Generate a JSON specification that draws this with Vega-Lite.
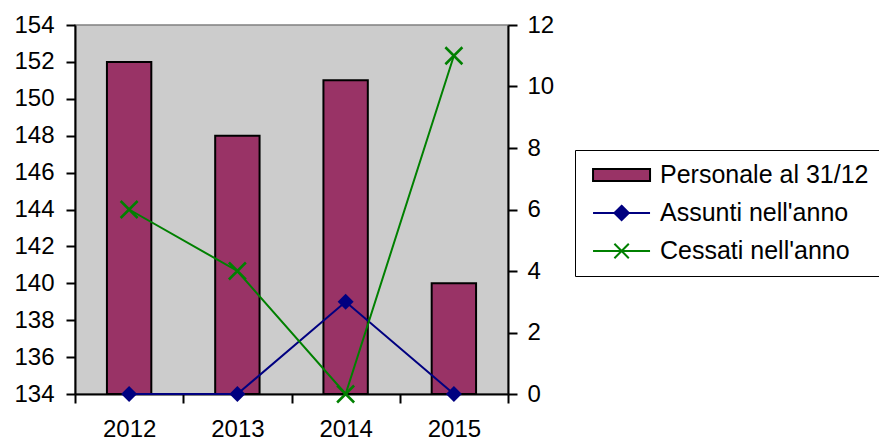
{
  "$schema": "https://vega.github.io/schema/vega-lite/v6.json",
  "width": 433,
  "height": 369,
  "autosize": {"type": "none"},
  "padding": {"left": 75, "top": 25, "right": 371, "bottom": 47},
  "background": "white",
  "config": {
    "font": "Liberation Sans",
    "view": {"fill": "#cccccc", "stroke": "#808080", "strokeWidth": 1.5},
    "axis": {
      "labelFont": "Liberation Sans",
      "labelFontSize": 24,
      "labelColor": "black",
      "domainColor": "black",
      "domainWidth": 2,
      "tickColor": "black",
      "tickWidth": 2,
      "tickSize": 9,
      "grid": false,
      "title": null
    },
    "legend": {
      "title": null,
      "orient": "none",
      "legendX": 500,
      "legendY": 125,
      "padding": 12,
      "strokeColor": "black",
      "fillColor": "white",
      "labelFont": "Liberation Sans",
      "labelFontSize": 25,
      "labelColor": "black",
      "labelOffset": 47,
      "labelLimit": 0,
      "symbolSize": 576,
      "symbolStrokeWidth": 2,
      "symbolOpacity": 1,
      "rowPadding": 12
    }
  },
  "datasets": {
    "personale": [
      {"anno": "2012", "valore": 152, "serie": "Personale al 31/12"},
      {"anno": "2013", "valore": 148, "serie": "Personale al 31/12"},
      {"anno": "2014", "valore": 151, "serie": "Personale al 31/12"},
      {"anno": "2015", "valore": 140, "serie": "Personale al 31/12"}
    ],
    "flussi": [
      {"anno": "2012", "valore": 0, "serie": "Assunti nell'anno"},
      {"anno": "2013", "valore": 0, "serie": "Assunti nell'anno"},
      {"anno": "2014", "valore": 3, "serie": "Assunti nell'anno"},
      {"anno": "2015", "valore": 0, "serie": "Assunti nell'anno"},
      {"anno": "2012", "valore": 6, "serie": "Cessati nell'anno"},
      {"anno": "2013", "valore": 4, "serie": "Cessati nell'anno"},
      {"anno": "2014", "valore": 0, "serie": "Cessati nell'anno"},
      {"anno": "2015", "valore": 11, "serie": "Cessati nell'anno"}
    ]
  },
  "encoding": {
    "x": {
      "field": "anno",
      "type": "nominal",
      "scale": {"paddingInner": 0, "paddingOuter": 0},
      "axis": {"labelAngle": 0, "tickBand": "extent", "labelPadding": 14}
    }
  },
  "layer": [
    {
      "data": {"name": "personale"},
      "mark": {"type": "bar", "width": {"band": 0.41}, "fill": "#993366", "stroke": "black", "strokeWidth": 2},
      "encoding": {
        "y": {
          "field": "valore",
          "type": "quantitative",
          "scale": {"domain": [134, 154], "zero": false, "nice": false},
          "axis": {"orient": "left", "values": [134,136,138,140,142,144,146,148,150,152,154], "labelPadding": 12}
        },
        "y2": {"datum": 134}
      }
    },
    {
      "data": {"name": "flussi"},
      "layer": [
        {
          "mark": {"type": "line", "strokeWidth": 2},
          "encoding": {
            "y": {
              "field": "valore",
              "type": "quantitative",
              "scale": {"domain": [0, 12], "nice": false},
              "axis": {"orient": "right", "values": [0,2,4,6,8,10,12], "labelPadding": 10}
            },
            "color": {
              "field": "serie",
              "type": "nominal",
              "scale": {"domain": ["Assunti nell'anno", "Cessati nell'anno"], "range": ["#000080", "#008000"]},
              "legend": null
            }
          }
        },
        {
          "transform": [{"filter": "indexof(datum.serie,'Assunti')>=0"}],
          "mark": {"type": "point", "shape": "diamond", "filled": true, "size": 256, "opacity": 1},
          "encoding": {
            "y": {"field": "valore", "type": "quantitative"},
            "color": {"field": "serie", "type": "nominal", "legend": null}
          }
        },
        {
          "transform": [{"filter": "indexof(datum.serie,'Cessati')>=0"}],
          "mark": {"type": "point", "shape": "M-1,-1L1,1M-1,1L1,-1", "filled": false, "size": 289, "strokeWidth": 2.5, "opacity": 1},
          "encoding": {
            "y": {"field": "valore", "type": "quantitative"},
            "color": {"field": "serie", "type": "nominal", "legend": null}
          }
        }
      ]
    },
    {
      "data": {"name": "personale"},
      "mark": {"type": "point", "filled": true, "opacity": 0},
      "encoding": {
        "fill": {
          "field": "serie",
          "type": "nominal",
          "scale": {"domain": ["Personale al 31/12", "Assunti nell'anno", "Cessati nell'anno"], "range": ["#993366", "#000080", "transparent"]}
        },
        "stroke": {
          "field": "serie",
          "type": "nominal",
          "scale": {"domain": ["Personale al 31/12", "Assunti nell'anno", "Cessati nell'anno"], "range": ["black", "#000080", "#008000"]}
        },
        "shape": {
          "field": "serie",
          "type": "nominal",
          "scale": {"domain": ["Personale al 31/12", "Assunti nell'anno", "Cessati nell'anno"], "range": ["M-0.58,-0.5H4.17V0.5H-0.58Z", "M-0.58,0H4.17M1.8,-0.6L2.4,0L1.8,0.6L1.2,0Z", "M-0.58,0H4.17M1.2,-0.6L2.4,0.6M1.2,0.6L2.4,-0.6"]}
        }
      }
    }
  ],
  "resolve": {"scale": {"y": "independent"}}
}
